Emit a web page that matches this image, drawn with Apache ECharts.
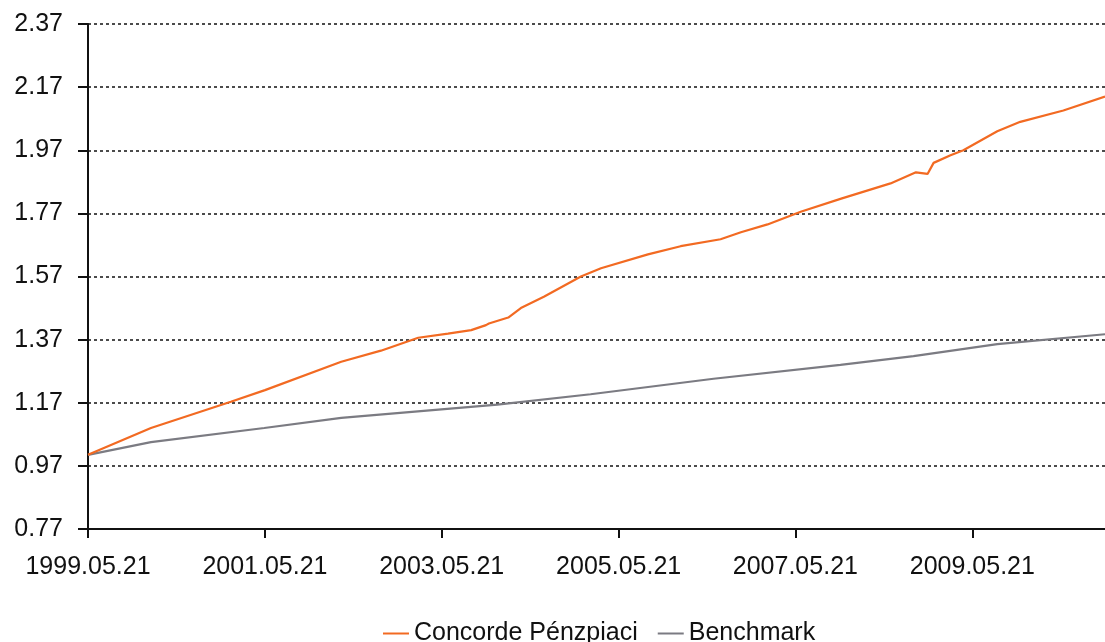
<!DOCTYPE html>
<html>
<head>
<meta charset="utf-8">
<script src="https://cdn.jsdelivr.net/npm/echarts@6/dist/echarts.min.js"></script>
<style>
  html, body { margin: 0; padding: 0; background: #fff; }
  #chart { width: 1105px; height: 642px; }
</style>
</head>
<body>
<div id="chart"></div>
<script>
// Concorde Pénzpiaci fund vs. benchmark, indexed to 1.00 at launch
const fundDates = [
  '1999-05-21', '2000-02-05', '2000-12-31', '2001-05-21', '2002-04-01',
  '2002-09-12', '2003-02-13', '2003-06-16', '2003-09-20', '2003-11-20',
  '2003-11-26', '2003-12-02', '2004-02-20', '2004-04-12', '2004-07-16',
  '2004-12-16', '2005-03-09', '2005-09-19', '2006-02-01', '2006-07-16',
  '2006-10-08', '2007-01-26', '2007-06-12', '2007-11-23', '2008-06-17',
  '2008-09-30', '2008-11-17', '2008-12-12', '2009-02-20', '2009-04-14',
  '2009-09-01', '2009-12-05', '2010-06-01', '2010-11-20'
];
const fundValues = [
  1.005, 1.09, 1.173, 1.21, 1.30,
  1.335, 1.376, 1.389, 1.40, 1.416,
  1.41, 1.421, 1.44, 1.47, 1.506,
  1.57, 1.596, 1.64, 1.666, 1.688,
  1.71, 1.735, 1.775, 1.816, 1.865,
  1.90, 1.895, 1.93, 1.954, 1.97,
  2.03, 2.06, 2.096, 2.14
];
const benchDates = [
  '1999-05-21', '2000-02-05', '2001-05-18', '2002-04-01', '2004-01-06',
  '2005-01-25', '2006-06-17', '2007-11-23', '2008-09-20', '2009-09-01',
  '2010-11-20'
];
const benchValues = [
  1.005, 1.045, 1.09, 1.122, 1.164,
  1.197, 1.246, 1.29, 1.318, 1.356,
  1.387
];
const xTickDates = ['1999-05-21', '2001-05-21', '2003-05-21', '2005-05-21', '2007-05-21', '2009-05-21'];
const yTicks = [0.77, 0.97, 1.17, 1.37, 1.57, 1.77, 1.97, 2.17, 2.37];
const seriesNames = ['Concorde Pénzpiaci', 'Benchmark'];

const toTime = d => Date.parse(d + 'T00:00:00Z');
const pad = n => (n < 10 ? '0' : '') + n;
const fmtDate = t => {
  const d = new Date(t);
  return d.getUTCFullYear() + '.' + pad(d.getUTCMonth() + 1) + '.' + pad(d.getUTCDate());
};
const pairs = (dates, vals) => dates.map((d, i) => [toTime(d), vals[i]]);
const xTicks = xTickDates.map(toTime);

const FONT = '"Liberation Sans", Arial, sans-serif';
const chart = echarts.init(document.getElementById('chart'), null, { renderer: 'canvas' });
chart.setOption({
  animation: false,
  backgroundColor: '#ffffff',
  grid: { left: 88, right: 0, top: 24, bottom: 113, containLabel: false, outerBoundsMode: 'none' },
  legend: {
    left: 378,
    top: 616,
    itemGap: 20,
    itemWidth: 26,
    itemHeight: 2,
    icon: 'rect',
    textStyle: { fontFamily: FONT, fontSize: 25, color: '#111' },
    data: seriesNames
  },
  xAxis: {
    type: 'value',
    min: toTime('1999-05-21'),
    max: toTime('2010-11-20'),
    axisLine: { show: true, onZero: false, lineStyle: { color: '#111', width: 2 } },
    axisTick: { show: true, length: 9, customValues: xTicks, lineStyle: { color: '#111', width: 2 } },
    axisLabel: {
      customValues: xTicks,
      margin: 26,
      fontFamily: FONT, fontSize: 25, color: '#111',
      formatter: v => fmtDate(v)
    },
    splitLine: { show: false }
  },
  yAxis: {
    type: 'value',
    min: 0.77,
    max: 2.37,
    axisLine: { show: true, lineStyle: { color: '#111', width: 2 } },
    axisTick: { show: true, length: 10, customValues: yTicks, lineStyle: { color: '#111', width: 2 } },
    axisLabel: {
      customValues: yTicks,
      margin: 25,
      fontFamily: FONT, fontSize: 25, color: '#111',
      formatter: v => Number(v).toFixed(2)
    },
    splitLine: { show: true, lineStyle: { color: '#111', width: 1.5, type: [3, 3] } }
  },
  series: [
    {
      name: seriesNames[0],
      type: 'line',
      data: pairs(fundDates, fundValues),
      showSymbol: false,
      color: '#f26a22',
      lineStyle: { color: '#f26a22', width: 2.2 },
      z: 3
    },
    {
      name: seriesNames[1],
      type: 'line',
      data: pairs(benchDates, benchValues),
      showSymbol: false,
      color: '#7b7b82',
      lineStyle: { color: '#7b7b82', width: 2.2 },
      z: 2
    }
  ]
});
</script>
</body>
</html>
